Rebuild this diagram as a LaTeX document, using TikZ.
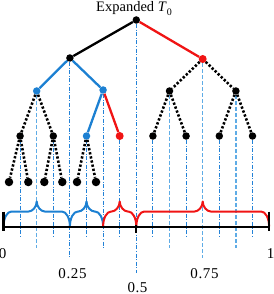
\documentclass[tikz,border=0pt]{standalone}
\usepackage{fontspec}
\setmainfont{Liberation Serif}
\newfontfamily\numfont[LetterSpace=4]{Liberation Serif}
\definecolor{tblue}{RGB}{28,128,210}
\definecolor{tred}{RGB}{240,20,20}
\definecolor{lblue}{RGB}{95,172,230}
\definecolor{dblue}{RGB}{35,130,215}
\tikzset{
  dotk/.style={circle, fill=black, inner sep=0pt, minimum size=7.5pt},
  dotr/.style={dotk, fill=tred, minimum size=8pt},
  dotb/.style={dotk, fill=tblue},
  leafk/.style={dotk, minimum size=8.5pt},
  sedge/.style={line width=2.3pt},
  dedge/.style={line width=2.6pt, dash pattern=on 2.3pt off 1.9pt},
  vdark/.style={dblue, line width=1pt, dash pattern=on 4pt off 1.6pt on 1pt off 1.6pt},
  vlight/.style={lblue, line width=1.4pt, dash pattern=on 4pt off 2pt},
  bracestyle/.style={line width=2pt, line join=round},
  lbl/.style={inner sep=0pt, anchor=base, font=\numfont\fontsize{15}{16}\selectfont}
}
\newcommand{\brc}[4]{%
  \draw[bracestyle, #1] (#2,226.5) .. controls (#2,218.2) and (#2+3.6,211.5) .. (#2+8,211.5) -- (#3-8,211.5)
    .. controls (#3-4.4,211.5) and (#3,207) .. (#3,201.5) .. controls (#3,207) and (#3+4.4,211.5) .. (#3+8,211.5) -- (#4-8,211.5)
    .. controls (#4-3.6,211.5) and (#4,218.2) .. (#4,226.5);}
\begin{document}
\begin{tikzpicture}[x=1pt,y=-1pt]
\useasboundingbox (0,0) rectangle (273,294);
% title
\node[inner sep=0pt, anchor=base, font=\fontsize{14.5}{16}\selectfont] (title) at (134,11.5)
  {Expanded \textit{T}\raisebox{-0.25em}{\fontsize{10}{10}\selectfont 0}};
% nodes
\node[dotk] (r) at (136.3,20) {};
\node[dotk] (a) at (69.9,58) {};
\node[dotr] (b) at (202.7,59) {};
\node[dotb] (aa) at (36.7,91) {};
\node[dotb] (ab) at (103.1,90) {};
\node[dotk] (ba) at (169.5,91) {};
\node[dotk] (bb) at (235.9,91) {};
\node[dotk] (aaa) at (20.1,136) {};
\node[dotk] (aab) at (53.3,136) {};
\node[dotb] (aba) at (86.5,136) {};
\node[dotr] (abb) at (119.7,136) {};
\node[dotk] (baa) at (152.9,136) {};
\node[dotk] (bab) at (186.1,136) {};
\node[dotk] (bba) at (219.3,136) {};
\node[dotk] (bbb) at (252.5,136) {};
\node[leafk] (l1) at (9,182) {};
\node[leafk] (l2) at (28.3,182) {};
\node[leafk] (l3) at (44.3,182) {};
\node[leafk] (l4) at (62.3,182) {};
\node[leafk] (l5) at (77,182) {};
\node[leafk] (l6) at (96,182) {};
% vertical guide lines
\coordinate (e1) at (20.1,238);
\coordinate (e2) at (36.7,248);
\coordinate (e3) at (53.3,238);
\coordinate (e4) at (69.9,258);
\coordinate (e5) at (86.5,238);
\coordinate (e6) at (103.1,248);
\coordinate (e7) at (119.7,238);
\coordinate (e8) at (136.3,273);
\coordinate (e9) at (152.9,238);
\coordinate (e10) at (169.5,248);
\coordinate (e11) at (186.1,238);
\coordinate (e12) at (202.7,258);
\coordinate (e13) at (219.3,238);
\coordinate (e14) at (235.9,248);
\coordinate (e15) at (252.5,238);
\draw[vdark] (aaa) -- (e1);
\draw[vlight] (aa) -- (e2);
\draw[vdark] (aab) -- (e3);
\draw[vdark] (a) -- (e4);
\draw[vdark] (aba) -- (e5);
\draw[vdark] (ab) -- (e6);
\draw[vdark] (abb) -- (e7);
\draw[vdark] (r) -- (e8);
\draw[vdark] (baa) -- (e9);
\draw[vlight] (ba) -- (e10);
\draw[vdark] (bab) -- (e11);
\draw[vlight] (b) -- (e12);
\draw[vdark] (bba) -- (e13);
\draw[vlight] (bb) -- (e14);
\draw[vdark] (bbb) -- (e15);
% tree edges
\draw[sedge] (r) -- (a);
\draw[sedge, tred] (r) -- (b);
\draw[sedge, tblue] (a) -- (aa);
\draw[sedge, tblue] (a) -- (ab);
\draw[sedge, tblue] (ab) -- (aba);
\draw[sedge, tred] (ab) -- (abb);
\draw[dedge] (b) -- (ba);
\draw[dedge] (b) -- (bb);
\draw[dedge] (aa) -- (aaa);
\draw[dedge] (aa) -- (aab);
\draw[dedge] (ba) -- (baa);
\draw[dedge] (ba) -- (bab);
\draw[dedge] (bb) -- (bba);
\draw[dedge] (bb) -- (bbb);
\draw[dedge] (aaa) -- (l1);
\draw[dedge] (aaa) -- (l2);
\draw[dedge] (aab) -- (l3);
\draw[dedge] (aab) -- (l4);
\draw[dedge] (aba) -- (l5);
\draw[dedge] (aba) -- (l6);
% braces
\brc{tblue}{3.5}{36.7}{69.9}
\brc{tblue}{69.9}{86.5}{103.1}
\brc{tred}{103.1}{119.7}{136.3}
\brc{tred}{136.3}{202.7}{269.1}
% axis
\coordinate (x0) at (3.5,226.5);
\coordinate (x1) at (269.1,226.5);
\coordinate (t0a) at (3.5,211.5);
\coordinate (t0b) at (3.5,230.5);
\coordinate (t1a) at (269.1,211.5);
\coordinate (t1b) at (269.1,230.5);
\coordinate (tma) at (136.3,225);
\coordinate (tmb) at (136.3,233);
\draw[line width=2pt] (x0) -- (x1);
\draw[line width=2.6pt] (t0a) -- (t0b);
\draw[line width=2.6pt] (t1a) -- (t1b);
\draw[line width=2.2pt] (tma) -- (tmb);
% labels
\node[lbl] (n0) at (2.5,258) {0};
\node[lbl] (n1) at (270.5,258) {1};
\node[lbl] (n25) at (72.5,278.5) {0.25};
\node[lbl] (n5) at (137.5,292) {0.5};
\node[lbl] (n75) at (204.5,278.5) {0.75};
\end{tikzpicture}
\end{document}
